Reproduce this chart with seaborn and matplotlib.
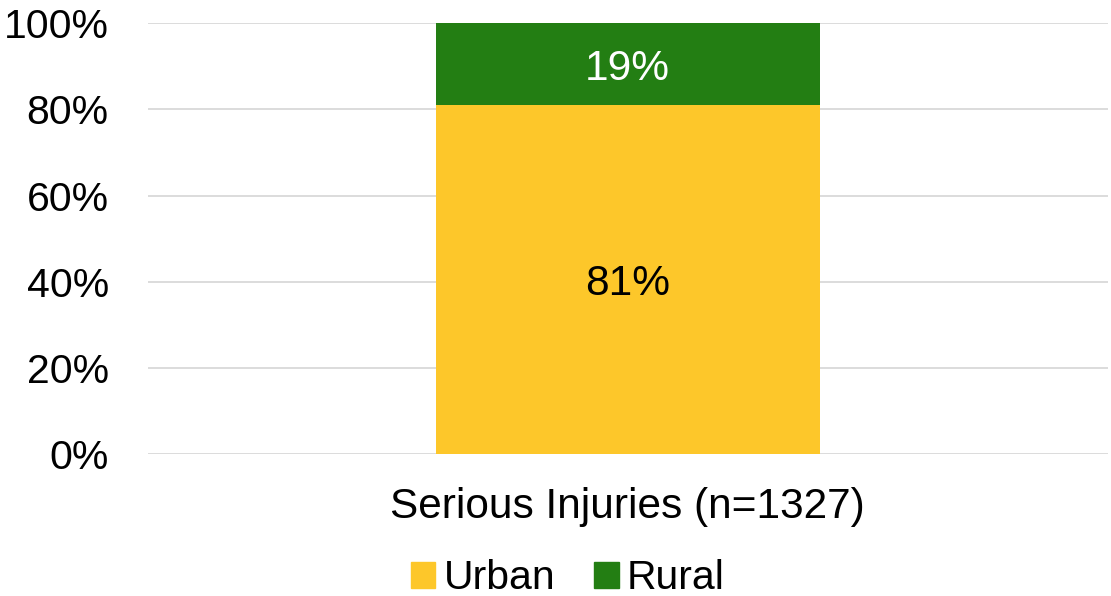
import matplotlib
matplotlib.use("Agg")
import matplotlib.pyplot as plt
import seaborn as sns
import pandas as pd
from matplotlib.patches import Patch
from matplotlib.ticker import PercentFormatter

categories = ["Serious Injuries (n=1327)"]
urban = [81]
rural = [19]
series_names = ["Urban", "Rural"]
colors = ["#FDC72A", "#237E13"]

df = pd.DataFrame({"cat": categories, "Urban": urban, "Rural": rural})
df["Total"] = df["Urban"] + df["Rural"]

sns.set_style("white")
plt.rcParams["font.family"] = ["Liberation Sans", "DejaVu Sans"]
plt.rcParams["text.color"] = "black"
plt.rcParams["xtick.color"] = "black"
plt.rcParams["ytick.color"] = "black"

FS = 30.5

fig = plt.figure(figsize=(11.11, 5.96), dpi=100)
ax = fig.add_axes([0.133, 0.238, 0.864, 0.723])

# stacked: draw total in green, then urban on top of it
sns.barplot(data=df, x="cat", y="Total", color=colors[1], width=0.4,
            saturation=1, linewidth=0, ax=ax, zorder=3)
sns.barplot(data=df, x="cat", y="Urban", color=colors[0], width=0.4,
            saturation=1, linewidth=0, ax=ax, zorder=3)

for i, (u, r) in enumerate(zip(urban, rural)):
    ax.text(i, u / 2, f"{u}%", ha="center", va="center_baseline", fontsize=FS, color="black", zorder=4)
    ax.text(i, u + r / 2, f"{r}%", ha="center", va="center_baseline", fontsize=FS, color="white", zorder=4)

ax.set_ylim(0, 100)
ax.set_yticks(range(0, 101, 20))
ax.yaxis.set_major_formatter(PercentFormatter(decimals=0))
ax.yaxis.grid(True, color="#D9D9D9", linewidth=1.3, zorder=0)
ax.set_axisbelow(True)
for s in ax.spines.values():
    s.set_visible(False)
ax.tick_params(axis="y", labelsize=29.5, length=0, pad=28)
ax.tick_params(axis="x", labelsize=FS, length=0, pad=24)
ax.set_xlabel("")
ax.set_ylabel("")

handles = [Patch(color=c, label=n) for c, n in zip(colors, series_names)]
fig.legend(handles=handles, loc="center", bbox_to_anchor=(0.511, 0.03), ncol=2,
           frameon=False, fontsize=29.5, handlelength=0.6, handleheight=0.6,
           handletextpad=0.2, columnspacing=0.95)

fig.savefig("out.png", dpi=100)
